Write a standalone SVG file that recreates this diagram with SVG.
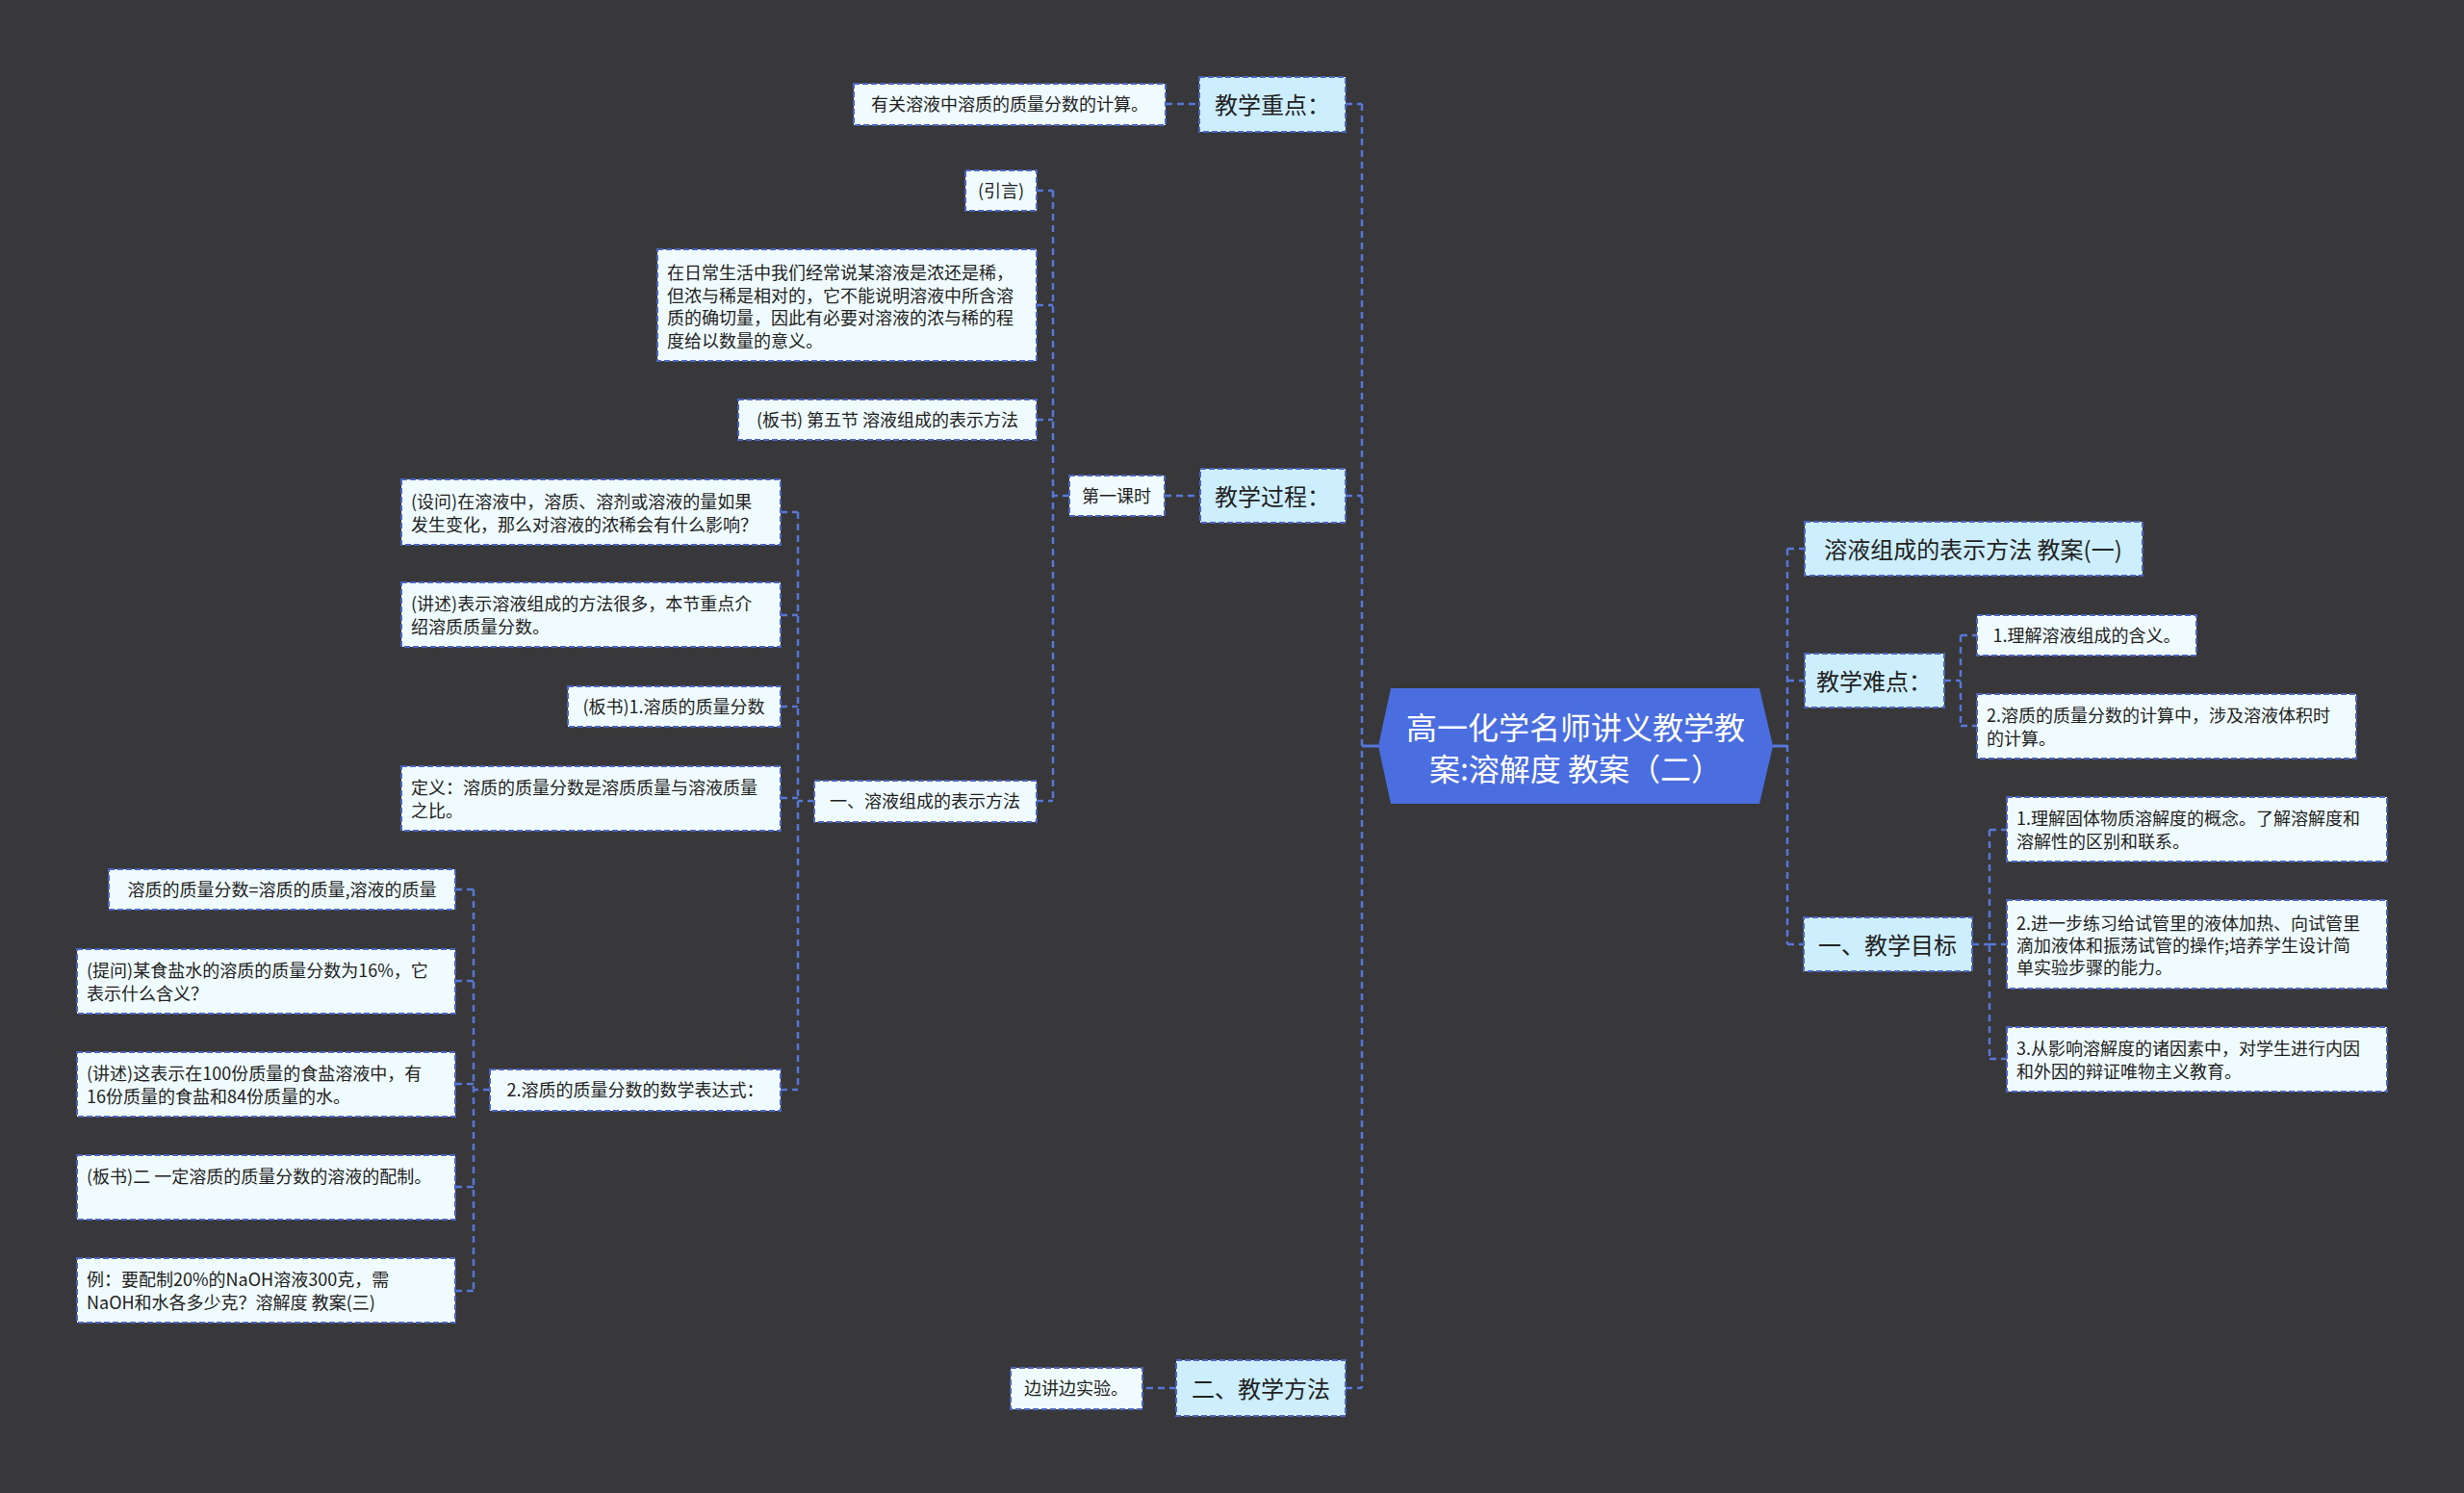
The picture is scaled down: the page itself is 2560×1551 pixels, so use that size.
<svg xmlns="http://www.w3.org/2000/svg" width="2560" height="1551" viewBox="0 0 2560 1551">
<style>
.bg{fill:#38373a}
.n1 rect{fill:#cdeefd;stroke:#4a64c0;stroke-width:2;stroke-dasharray:6 3}
.n2 rect{fill:#f0fbfe;stroke:#4a64c0;stroke-width:2;stroke-dasharray:6 3}
text{font-family:"Noto Sans CJK SC","Noto Sans",sans-serif;fill:#222;dominant-baseline:central}
.n1 text{font-size:24px;text-anchor:middle}
.n2 text{font-size:18px}
.c{text-anchor:middle}
.root text{font-size:32px;fill:#fff;text-anchor:middle}
.conn path{fill:none;stroke:#5676d8;stroke-width:2.5;stroke-dasharray:7 5}
.conn path.solid{stroke-dasharray:none;stroke-width:3}
</style>
<rect class="bg" x="0" y="0" width="2560" height="1551"/>
<g id="connectors" class="conn">
<path class="solid" d="M1432 775H1415"/>
<path d="M1415 108V1442M1398 108H1415M1398 515H1415M1398 1442H1415"/>
<path d="M1211 108H1246"/>
<path d="M1210 515H1247"/>
<path d="M1111 515H1094M1094 198V832M1077 198H1094M1077 317H1094M1077 436H1094M1077 832H1094"/>
<path d="M846 832H829M829 532V1132M811 532H829M811 639H829M811 734H829M811 829H829M811 1132H829"/>
<path d="M509 1132H492M492 924V1341M473 924H492M473 1019H492M473 1126H492M473 1233H492M473 1341H492"/>
<path d="M1222 1442H1187"/>
<path class="solid" d="M1842 775H1857"/>
<path d="M1857 570V981M1857 570H1875M1857 707H1875M1857 981H1874"/>
<path d="M2020 707H2037M2037 660V754M2037 660H2054M2037 754H2054"/>
<path d="M2049 981H2067M2067 862V1100M2067 862H2085M2067 981H2085M2067 1100H2085"/>
</g>
<g id="root" class="root">
<polygon points="1432,775 1445,715 1828,715 1842,775 1828,835 1445,835" fill="#4a6ee0"/>
<text x="1637" y="754">高一化学名师讲义教学教</text>
<text x="1637" y="797">案:溶解度 教案（二）</text>
</g>
<g id="n-zhongdian" class="n1"><rect x="1246" y="80" width="152" height="57"/><text x="1322" y="107">教学重点：</text></g>
<g id="n-guocheng" class="n1"><rect x="1247" y="487" width="151" height="56"/><text x="1322" y="514">教学过程：</text></g>
<g id="n-fangfa" class="n1"><rect x="1222" y="1413" width="176" height="58"/><text x="1310" y="1441">二、教学方法</text></g>
<g id="n-jiaoan1" class="n1"><rect x="1875" y="542" width="351" height="56"/><text x="2050" y="569">溶液组成的表示方法 教案(一)</text></g>
<g id="n-nandian" class="n1"><rect x="1875" y="679" width="145" height="56"/><text x="1947" y="706">教学难点：</text></g>
<g id="n-mubiao" class="n1"><rect x="1874" y="953" width="175" height="56"/><text x="1961" y="980">一、教学目标</text></g>
<g id="n-zd1" class="n2"><rect x="887" y="87" width="324" height="43"/><text class="c" x="1049" y="107">有关溶液中溶质的质量分数的计算。</text></g>
<g id="n-yinyan" class="n2"><rect x="1003" y="177" width="74" height="42"/><text class="c" x="1040" y="197">(引言)</text></g>
<g id="n-richang" class="n2"><rect x="683" y="259" width="394" height="116"/><text x="693" y="282">在日常生活中我们经常说某溶液是浓还是稀，</text><text x="693" y="306">但浓与稀是相对的，它不能说明溶液中所含溶</text><text x="693" y="329">质的确切量，因此有必要对溶液的浓与稀的程</text><text x="693" y="353">度给以数量的意义。</text></g>
<g id="n-banshu5" class="n2"><rect x="767" y="415" width="310" height="42"/><text class="c" x="922" y="435">(板书) 第五节 溶液组成的表示方法</text></g>
<g id="n-keshi" class="n2"><rect x="1111" y="494" width="99" height="42"/><text class="c" x="1160" y="514">第一课时</text></g>
<g id="n-yi" class="n2"><rect x="846" y="811" width="231" height="43"/><text class="c" x="961" y="831">一、溶液组成的表示方法</text></g>
<g id="n-shewen" class="n2"><rect x="417" y="498" width="394" height="68"/><text x="427" y="520">(设问)在溶液中，溶质、溶剂或溶液的量如果</text><text x="427" y="544">发生变化，那么对溶液的浓稀会有什么影响？</text></g>
<g id="n-jiangshu1" class="n2"><rect x="417" y="605" width="394" height="67"/><text x="427" y="626">(讲述)表示溶液组成的方法很多，本节重点介</text><text x="427" y="650">绍溶质质量分数。</text></g>
<g id="n-banshu1" class="n2"><rect x="590" y="713" width="221" height="42"/><text class="c" x="700" y="733">(板书)1.溶质的质量分数</text></g>
<g id="n-dingyi" class="n2"><rect x="417" y="796" width="394" height="67"/><text x="427" y="817">定义：溶质的质量分数是溶质质量与溶液质量</text><text x="427" y="841">之比。</text></g>
<g id="n-biaodashi" class="n2"><rect x="509" y="1111" width="302" height="43"/><text class="c" x="660" y="1131">2.溶质的质量分数的数学表达式：</text></g>
<g id="n-gongshi" class="n2"><rect x="113" y="903" width="360" height="42"/><text class="c" x="293" y="923">溶质的质量分数=溶质的质量,溶液的质量</text></g>
<g id="n-tiwen" class="n2"><rect x="80" y="986" width="393" height="67"/><text x="90" y="1007">(提问)某食盐水的溶质的质量分数为16%，它</text><text x="90" y="1031">表示什么含义？</text></g>
<g id="n-jiangshu2" class="n2"><rect x="80" y="1093" width="393" height="67"/><text x="90" y="1114">(讲述)这表示在100份质量的食盐溶液中，有</text><text x="90" y="1138">16份质量的食盐和84份质量的水。</text></g>
<g id="n-banshu2" class="n2"><rect x="80" y="1200" width="393" height="67"/><text x="90" y="1221">(板书)二 一定溶质的质量分数的溶液的配制。</text></g>
<g id="n-li" class="n2"><rect x="80" y="1307" width="393" height="67"/><text x="90" y="1328">例：要配制20%的NaOH溶液300克，需</text><text x="90" y="1352">NaOH和水各多少克？溶解度 教案(三)</text></g>
<g id="n-shiyan" class="n2"><rect x="1050" y="1421" width="137" height="43"/><text class="c" x="1118" y="1441">边讲边实验。</text></g>
<g id="n-nd1" class="n2"><rect x="2054" y="639" width="228" height="42"/><text class="c" x="2168" y="659">1.理解溶液组成的含义。</text></g>
<g id="n-nd2" class="n2"><rect x="2054" y="721" width="394" height="67"/><text x="2064" y="742">2.溶质的质量分数的计算中，涉及溶液体积时</text><text x="2064" y="766">的计算。</text></g>
<g id="n-mb1" class="n2"><rect x="2085" y="828" width="395" height="67"/><text x="2095" y="849">1.理解固体物质溶解度的概念。了解溶解度和</text><text x="2095" y="873">溶解性的区别和联系。</text></g>
<g id="n-mb2" class="n2"><rect x="2085" y="935" width="395" height="92"/><text x="2095" y="958">2.进一步练习给试管里的液体加热、向试管里</text><text x="2095" y="981">滴加液体和振荡试管的操作;培养学生设计简</text><text x="2095" y="1004">单实验步骤的能力。</text></g>
<g id="n-mb3" class="n2"><rect x="2085" y="1067" width="395" height="67"/><text x="2095" y="1088">3.从影响溶解度的诸因素中，对学生进行内因</text><text x="2095" y="1112">和外因的辩证唯物主义教育。</text></g>
</svg>
